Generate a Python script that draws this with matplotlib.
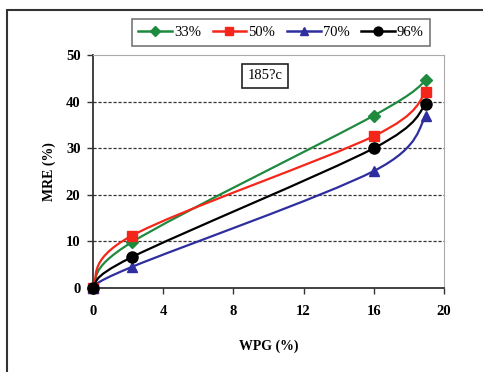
import matplotlib
matplotlib.use("Agg")
import matplotlib.pyplot as plt
from matplotlib.path import Path
from matplotlib.patches import PathPatch, Rectangle
from matplotlib.lines import Line2D
import numpy as np

plt.rcParams['font.family'] = ['Liberation Serif', 'DejaVu Serif']

wpg = [0, 2.2, 16, 19]
rh_labels = ['33%', '50%', '70%', '96%']
mre_33 = [0, 9.8, 37.0, 44.6]
mre_50 = [0, 11.2, 32.6, 42.0]
mre_70 = [0, 4.5, 25.1, 36.9]
mre_96 = [0, 6.6, 30.0, 39.5]
series = [mre_33, mre_50, mre_70, mre_96]
colors = ['#1e8a3e', '#f4261a', '#2e2e9e', '#000000']
markers = ['D', 's', '^', 'o']
msizes = [6, 7, 7.5, 8]
x_ticks = [0, 4, 8, 12, 16, 20]
y_ticks = [0, 10, 20, 30, 40, 50]

fig = plt.figure(figsize=(4.83, 3.72), dpi=100)
# outer frame (extends past right/bottom edges)
fig.patches.append(Rectangle((7/483, -0.1), 1.2, 1 - 10/372 + 0.1, transform=fig.transFigure,
                             fill=False, edgecolor='#333333', lw=1.5))
ax = fig.add_axes([93/483, 1 - 288/372, 351/483, 233/372])


def smooth_path(xs, ys):
    pts = np.column_stack([xs, ys]).astype(float)
    n = len(pts)
    verts = [pts[0]]
    codes = [Path.MOVETO]
    for i in range(n - 1):
        p0 = pts[i - 1] if i > 0 else pts[i]
        p1 = pts[i]
        p2 = pts[i + 1]
        p3 = pts[i + 2] if i + 2 < n else pts[i + 1]
        c1 = p1 + (p2 - p0) / 6.0
        c2 = p2 - (p3 - p1) / 6.0
        verts += [c1, c2, p2]
        codes += [Path.CURVE4] * 3
    return Path(verts, codes)


handles = []
for ys, c, m, ms, lab in zip(series, colors, markers, msizes, rh_labels):
    patch = PathPatch(smooth_path(wpg, ys), fill=False, edgecolor=c, lw=1.6,
                      transform=ax.transData, clip_on=False, zorder=3)
    ax.add_patch(patch)
    ax.plot(wpg, ys, linestyle='none', marker=m, color=c, markersize=ms,
            zorder=4, clip_on=False)
    handles.append(Line2D([], [], color=c, marker=m, markersize=ms * 0.8, lw=1.8, label=lab))

ax.set_xlim(0, 20)
ax.set_ylim(0, 50)
ax.set_xticks(x_ticks)
ax.set_yticks(y_ticks)
for y in y_ticks[1:-1]:
    ax.axhline(y, color='#333333', lw=0.9, ls=(0, (2.5, 1.5)), zorder=1)

ax.spines['left'].set_color('#333333')
ax.spines['bottom'].set_color('#333333')
ax.spines['left'].set_linewidth(1.3)
ax.spines['bottom'].set_linewidth(1.3)
ax.spines['top'].set_color('#aaaaaa')
ax.spines['right'].set_color('#aaaaaa')
ax.tick_params(axis='both', direction='out', length=4, width=1, color='#333333',
               labelsize=10.5)
ax.tick_params(axis='x', pad=8)
ax.tick_params(axis='y', pad=5)
for lbl in ax.get_xticklabels() + ax.get_yticklabels():
    lbl.set_fontweight('bold')

ax.set_xlabel('WPG (%)', fontsize=10, fontweight='bold', labelpad=16)
ax.set_ylabel('MRE (%)', fontsize=10, fontweight='bold', labelpad=7)

ax.text(0.49, 0.91, '185?c', transform=ax.transAxes, ha='center', va='center',
        fontsize=10.5, bbox=dict(boxstyle='square,pad=0.4', fc='white', ec='#222222', lw=1.2))

leg = fig.legend(handles=handles, loc='center', bbox_to_anchor=(281/483, 1 - 32.5/372),
                 ncol=4, frameon=True, fancybox=False, fontsize=10.5,
                 handlelength=2.3, handletextpad=0.15, columnspacing=0.8,
                 borderpad=0.45, borderaxespad=0)
leg.get_frame().set_edgecolor('#555555')
leg.get_frame().set_linewidth(1.2)

fig.savefig('out.png', dpi=100)
